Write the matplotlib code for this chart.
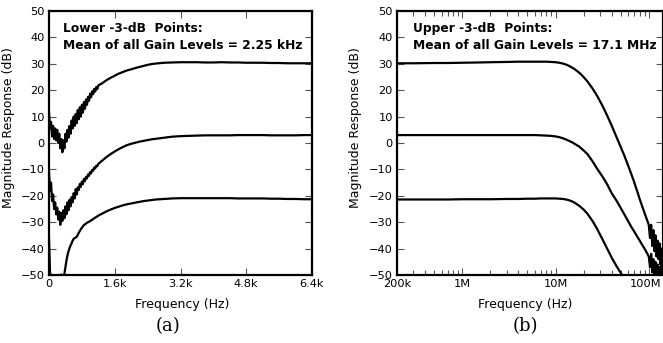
import matplotlib
matplotlib.use("Agg")
import matplotlib.pyplot as plt
from matplotlib.ticker import FixedLocator, FixedFormatter, LogLocator, NullFormatter
from matplotlib.transforms import ScaledTranslation

plt.rcParams['font.family'] = ['DejaVu Sans']

# panel (a): lower -3 dB points, linear frequency axis (Hz)
f_lo = [0, 25, 50, 75, 100, 125, 150, 175, 200, 225, 250, 275, 300, 325, 350,
        375, 400, 425, 450, 475, 500, 525, 550, 575, 600, 625, 650, 675, 700,
        725, 750, 775, 800, 825, 850, 875, 900, 925, 950, 975, 1000, 1025,
        1050, 1075, 1100, 1125, 1150, 1175, 1200,
        1300, 1400, 1500, 1600, 1700, 1800, 1900, 2000, 2100, 2200, 2300,
        2400, 2500, 2600,
        2800, 3000, 3200, 3400, 3600, 3800, 4000, 4200, 4400, 4600, 4800,
        5000, 5200, 5400, 5600, 5800, 6000, 6200, 6400]
lo_high_gain = [11.5, 5.5, 8, 2.5, 6.5, 1.5, 5.5, 1, 5, 0, 3.5, -2, 1.5, -3.5,
                1, -2, 3.5, 0.5, 5, 2, 6.5, 3.5, 8.5, 5.5, 10, 6.5, 11, 7.5,
                12.5, 9, 13.5, 10, 14.5, 11.5, 15.5, 13, 16.5, 14.5, 17.5, 16,
                18.7, 17.3, 19.6, 18.5, 20.5, 19.5, 21.2, 20.4, 21.8,
                22.7, 23.8, 24.7, 25.5, 26.3, 26.9, 27.5, 27.9, 28.4, 28.8,
                29.2, 29.6, 29.9, 30.1,
                30.4, 30.5, 30.6, 30.6, 30.6, 30.5, 30.5, 30.6, 30.5, 30.5,
                30.4, 30.4, 30.4, 30.3, 30.3, 30.2, 30.2, 30.2, 30.2]
lo_mid_gain = [-11, -18, -15, -22, -19.5, -25, -22.5, -27, -24.5, -29, -26,
               -31, -26.5, -29.5, -25.5, -28.5, -24, -27, -22.5, -25.5, -21.5,
               -24, -20.5, -22.5, -19, -21, -17.5, -19.5, -16.8, -17.8, -15.5,
               -16.6, -14.6, -15.6, -13.6, -14.4, -12.8, -13.4, -11.9, -12.4,
               -11.0, -11.5, -10.2, -10.5, -9.3, -9.6, -8.6, -8.8, -7.9,
               -6.6, -5.3, -4.2, -3.2, -2.3, -1.5, -0.8, -0.3, 0.1, 0.5, 0.8,
               1.1, 1.4, 1.6,
               2.0, 2.4, 2.6, 2.7, 2.8, 2.9, 2.9, 2.9, 2.9, 3.0, 3.0, 3.0,
               3.0, 2.9, 2.9, 2.9, 2.9, 3.0, 3.0]
lo_low_gain = [-36, -49, -51, -51, -51, -51, -51, -51, -51, -51, -51, -50.5,
               -49.8, -50.3, -50.8, -49.5, -47, -44.5, -42.5, -41, -39.8,
               -38.8, -38, -37, -36.3, -36, -35.8, -35.5, -34.8, -34, -33.3,
               -32.7, -32.1, -31.6, -31.1, -30.8, -30.5, -30.2, -30, -29.8,
               -29.6, -29.3, -29.1, -28.8, -28.5, -28.3, -28, -27.8, -27.5,
               -26.7, -25.9, -25.2, -24.6, -24.1, -23.6, -23.2, -22.9, -22.6,
               -22.3, -22, -21.8, -21.6, -21.4,
               -21.2, -21, -20.9, -20.9, -20.9, -20.9, -20.9, -20.9, -20.9,
               -21, -21, -21, -21, -21.1, -21.1, -21.2, -21.2, -21.3, -21.3]

# panel (b): upper -3 dB points, log frequency axis (Hz)
f_hi = [2e5, 3e5, 5e5, 7e5, 1e6, 1.5e6, 2e6, 3e6, 4e6, 5e6, 6e6, 7e6, 8e6,
        9e6, 10e6, 11e6, 12e6, 13e6, 14e6, 15e6, 16e6, 18e6, 20e6, 22e6,
        25e6, 28e6, 32e6, 36e6, 40e6, 45e6, 50e6, 55e6, 60e6, 65e6, 70e6,
        75e6, 80e6, 85e6, 90e6, 95e6, 100e6, 103e6, 106e6, 109e6, 112e6,
        115e6, 118e6, 121e6, 124e6, 127e6, 130e6, 133e6, 136e6, 139e6, 142e6]
hi_high_gain = [30.2, 30.2, 30.3, 30.3, 30.4, 30.5, 30.6, 30.7, 30.8, 30.8,
                30.8, 30.8, 30.8, 30.7, 30.6, 30.4, 30.1, 29.7, 29.2, 28.6,
                28.0, 26.6, 25.0, 23.3, 20.6, 17.8, 14.0, 10.2, 6.6, 2.3, -1.5,
                -5.0, -8.5, -11.8, -15, -18.2, -21.3, -24, -26.5, -28.8, -31,
                -36, -31, -39, -33, -41, -35, -43, -37, -44, -38, -46, -40,
                -47, -42]
hi_mid_gain = [3.0, 3.0, 3.0, 3.0, 3.0, 3.0, 3.0, 3.0, 3.0, 3.0, 3.0, 2.9,
               2.8, 2.7, 2.5, 2.2, 1.8, 1.3, 0.8, 0.3, -0.3, -1.4, -2.8, -4.2,
               -7.0, -9.8, -12.8, -15.8, -19.0, -21.8, -24.6, -27.2, -29.6,
               -31.8, -33.6, -35.4, -37.0, -38.6, -40.0, -41.5, -43,
               -47, -42, -49, -44, -50.5, -45, -50.5, -46, -51, -47, -51,
               -46, -51, -48]
hi_low_gain = [-21.4, -21.4, -21.4, -21.4, -21.3, -21.3, -21.3, -21.2, -21.2,
               -21.1, -21.1, -21.0, -21.0, -21.0, -21.0, -21.1, -21.2, -21.4,
               -21.7, -22.1, -22.6, -23.8, -25.2, -26.8, -29.6, -32.6, -36.6,
               -40.2, -43.4, -46.6, -49.2, -51.5, -52, -52, -52, -52, -52, -52,
               -52, -52, -52, -52, -52, -52, -52, -52, -52, -52, -52, -52, -52,
               -52, -52, -52, -52]

lo_ticks = [0, 1600, 3200, 4800, 6400]
lo_tick_labels = ["0", "1.6k", "3.2k", "4.8k", "6.4k"]
hi_ticks = [2e5, 1e6, 1e7, 1e8]
hi_tick_labels = ["200k", "1M", "10M", "100M"]
db_ticks = list(range(-50, 51, 10))

for y in (lo_high_gain, lo_mid_gain, lo_low_gain):
    assert len(y) == len(f_lo)
for y in (hi_high_gain, hi_mid_gain, hi_low_gain):
    assert len(y) == len(f_hi)

W, H = 663, 343
fig = plt.figure(figsize=(W / 100, H / 100), dpi=100)


def frame(ax):
    for s in ax.spines.values():
        s.set_linewidth(1.6)
    ax.set_ylim(-50, 50)
    ax.set_yticks(db_ticks)
    ax.tick_params(which='both', direction='in', top=True, right=True,
                   labelsize=8.2, pad=3, width=0.8, color='#555555')
    ax.tick_params(which='major', length=5)
    ax.tick_params(which='minor', length=3.5)
    ax.set_xlabel("Frequency (Hz)", fontsize=9, labelpad=0)
    ax.set_ylabel("Magnitude Response (dB)", fontsize=9)


ax1 = fig.add_axes([49 / W, 1 - 275 / H, 263 / W, 264 / H])
for y in (lo_high_gain, lo_mid_gain, lo_low_gain):
    ax1.plot(f_lo, y, color='black', lw=1.6)
ax1.set_xlim(0, 6400)
ax1.xaxis.set_major_locator(FixedLocator(lo_ticks))
ax1.xaxis.set_major_formatter(FixedFormatter(lo_tick_labels))
frame(ax1)
ax1.yaxis.set_label_coords(-0.129, 0.56)
ax1.xaxis.set_label_coords(0.505, -0.087)
ax1.text(0.055, 0.935, "Lower -3-dB  Points:", transform=ax1.transAxes,
         fontsize=8.8, fontweight='bold', va='center')
ax1.text(0.055, 0.87, "Mean of all Gain Levels = 2.25 kHz",
         transform=ax1.transAxes, fontsize=8.8, fontweight='bold', va='center')

ax2 = fig.add_axes([397 / W, 1 - 275 / H, 266 / W, 264 / H])
for y in (hi_high_gain, hi_mid_gain, hi_low_gain):
    ax2.plot(f_hi, y, color='black', lw=1.6)
ax2.set_xscale('log')
ax2.set_xlim(2e5, 1.42e8)
ax2.xaxis.set_major_locator(FixedLocator(hi_ticks))
ax2.xaxis.set_major_formatter(FixedFormatter(hi_tick_labels))
ax2.xaxis.set_minor_locator(LogLocator(base=10, subs=range(2, 10)))
ax2.xaxis.set_minor_formatter(NullFormatter())
frame(ax2)
ax2.yaxis.set_label_coords(-0.133, 0.56)
ax2.xaxis.set_label_coords(0.483, -0.087)
ax2.text(0.06, 0.935, "Upper -3-dB  Points:", transform=ax2.transAxes,
         fontsize=8.8, fontweight='bold', va='center')
ax2.text(0.06, 0.87, "Mean of all Gain Levels = 17.1 MHz",
         transform=ax2.transAxes, fontsize=8.8, fontweight='bold', va='center')

# keep "100M" inside the figure edge
last = ax2.xaxis.get_major_ticks()[-1].label1
last.set_transform(last.get_transform()
                   + ScaledTranslation(-0.035, 0, fig.dpi_scale_trans))

fig.text(168 / W, 1 - 326 / H, "(a)", family='DejaVu Serif', fontsize=13,
         ha='center', va='center')
fig.text(525 / W, 1 - 326 / H, "(b)", family='DejaVu Serif', fontsize=13,
         ha='center', va='center')

fig.savefig("out.png", dpi=100)
